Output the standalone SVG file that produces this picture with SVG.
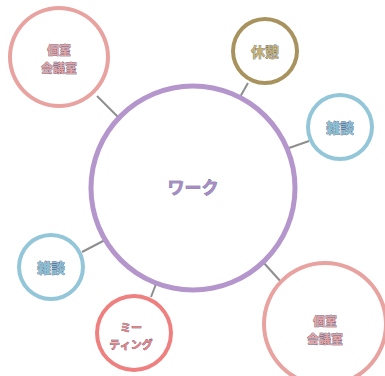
<svg xmlns="http://www.w3.org/2000/svg" width="385" height="376" viewBox="0 0 385 376">
  <style>
    .lbl { font-family: "Noto Sans CJK JP", "Noto Sans", sans-serif; font-size: 14px; font-weight: bold; text-anchor: middle; stroke: #2b3a6b; stroke-width: 0.5; paint-order: stroke; }
    .big { font-size: 17px; }
    .two { font-size: 12px; }
    .small { font-size: 11px; }
    .ring { fill-rule: evenodd; }
  </style>
  <rect width="385" height="376" fill="#ffffff"/>
  <!-- connectors drawn as thin filled bars -->
  <g id="connectors" fill="#8e8e8e">
    <polygon points="97.7,95.3 119.7,117.3 118.3,118.7 96.3,96.7"/>
    <polygon points="248.87,83.5 240.87,97.5 239.13,96.5 247.13,82.5"/>
    <polygon points="309.33,141.94 289.33,148.94 288.67,147.06 308.67,140.06"/>
    <polygon points="82.46,252.89 105.46,240.89 104.54,239.11 81.54,251.11"/>
    <polygon points="151.93,297.36 156.93,284.36 155.07,283.64 150.07,296.64"/>
    <polygon points="263.74,261.33 282.74,282.33 281.26,283.67 262.26,262.67"/>
  </g>
  <g id="work">
    <path class="ring" fill="#b596cc" d="M88.5 188a104.5 104.5 0 1 0 209 0a104.5 104.5 0 1 0 -209 0ZM93.5 188a99.5 99.5 0 1 0 199 0a99.5 99.5 0 1 0 -199 0Z"/>
    <text class="lbl big" x="193" y="194" fill="#a98cc6">ワーク</text>
  </g>
  <g id="room-a">
    <path class="ring" fill="#e8a3a0" d="M8 57a51 51 0 1 0 102 0a51 51 0 1 0 -102 0ZM12 57a47 47 0 1 0 94 0a47 47 0 1 0 -94 0Z"/>
    <text class="lbl two" x="59" y="55" fill="#e8a3a0">個室</text>
    <text class="lbl two" x="59" y="72.5" fill="#e8a3a0">会議室</text>
  </g>
  <g id="break">
    <path class="ring" fill="#a8925e" d="M231 51a34 34 0 1 0 68 0a34 34 0 1 0 -68 0ZM235 51a30 30 0 1 0 60 0a30 30 0 1 0 -60 0Z"/>
    <text class="lbl" x="265" y="57" fill="#c8b070">休憩</text>
  </g>
  <g id="chat-a">
    <path class="ring" fill="#92c6d8" d="M306 127a34 34 0 1 0 68 0a34 34 0 1 0 -68 0ZM310 127a30 30 0 1 0 60 0a30 30 0 1 0 -60 0Z"/>
    <text class="lbl" x="340" y="133" fill="#8cc0d4">雑談</text>
  </g>
  <g id="chat-b">
    <path class="ring" fill="#92c6d8" d="M17 267a34 34 0 1 0 68 0a34 34 0 1 0 -68 0ZM21 267a30 30 0 1 0 60 0a30 30 0 1 0 -60 0Z"/>
    <text class="lbl" x="51" y="273" fill="#8cc0d4">雑談</text>
  </g>
  <g id="meeting">
    <path class="ring" fill="#ef8080" d="M95 333a39 39 0 1 0 78 0a39 39 0 1 0 -78 0ZM99 333a35 35 0 1 0 70 0a35 35 0 1 0 -70 0Z"/>
    <text class="lbl small" x="131" y="332" fill="#ef8080">ミー</text>
    <text class="lbl small" x="131" y="349" fill="#ef8080">ティング</text>
  </g>
  <g id="room-b">
    <path class="ring" fill="#e8a3a0" d="M262 324a63 63 0 1 0 126 0a63 63 0 1 0 -126 0ZM266 324a59 59 0 1 0 118 0a59 59 0 1 0 -118 0Z"/>
    <text class="lbl two" x="325" y="326" fill="#e8a3a0">個室</text>
    <text class="lbl two" x="325" y="343.5" fill="#e8a3a0">会議室</text>
  </g>
</svg>
